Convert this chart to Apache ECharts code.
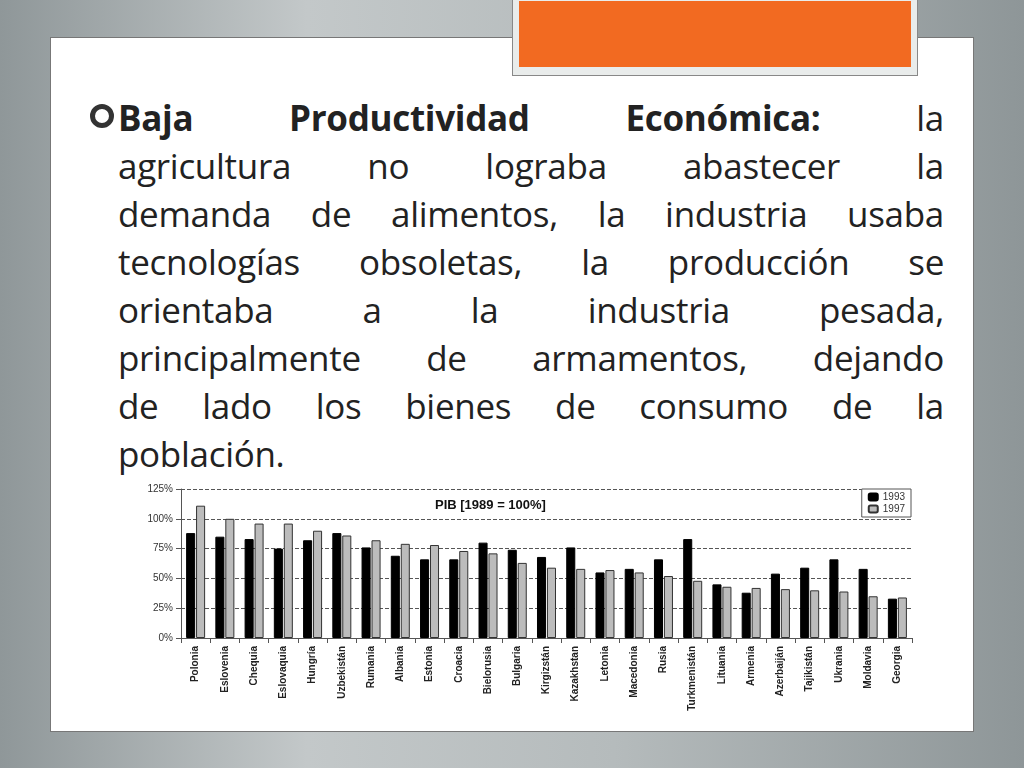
<!DOCTYPE html>
<html>
<head>
<meta charset="utf-8">
<script src="https://cdn.jsdelivr.net/npm/echarts@6/dist/echarts.min.js"></script>
<style>
  body { margin:0; width:1024px; height:768px; overflow:hidden; position:relative;
         background: linear-gradient(90deg,#8f9799 0%,#c3c8c9 30%,#b5bbbc 60%,#8e9698 100%); }
  #panel { position:absolute; left:50px; top:37px; width:922px; height:693px; background:#fff; border:1px solid #777; }
  #orange { position:absolute; left:512px; top:-4px; width:404px; height:78px; background:#e9eceb; border:1px solid #888; }
  #orange div { position:absolute; left:6px; top:4px; right:6px; bottom:8px; background:#f26a21; }
  #text { position:absolute; left:118px; top:94px; width:826px; font-family:"Open Sans",sans-serif; font-size:35px; line-height:48px; letter-spacing:-0.3px; color:#222; }
  #text .l { display:block; text-align:justify; text-align-last:justify; white-space:nowrap; }
  #text .last { text-align-last:left; }
  #bullet { position:absolute; left:90px; top:104px; width:14px; height:14px; border:5px solid #333; border-radius:50%; }
  #chart { position:absolute; left:140px; top:478px; width:775px; height:245px; background:#fff; }
</style>
</head>
<body>
<div id="panel"></div>
<div id="orange"><div></div></div>
<div id="bullet"></div>
<div id="text">
<span class="l"><b>Baja Productividad Económica:</b> la</span>
<span class="l">agricultura no lograba abastecer la</span>
<span class="l">demanda de alimentos, la industria usaba</span>
<span class="l">tecnologías obsoletas, la producción se</span>
<span class="l">orientaba a la industria pesada,</span>
<span class="l">principalmente de armamentos, dejando</span>
<span class="l">de lado los bienes de consumo de la</span>
<span class="l last">población.</span>
</div>
<div id="chart"></div>
<script>
var countries = ['Polonia','Eslovenia','Chequia','Eslovaquia','Hungría','Uzbekistán','Rumania','Albania','Estonia','Croacia','Bielorusia','Bulgaria','Kirgizstán','Kazakhstan','Letonia','Macedonia','Rusia','Turkmenistán','Lituania','Armenia','Azerbaiján','Tajikistán','Ukrania','Moldavia','Georgia'];
var v1993 = [88,85,83,75,82,88,76,69,66,66,80,74,68,76,55,58,66,83,45,38,54,59,66,58,33];
var v1997 = [111,100,96,96,90,86,82,79,78,73,71,63,59,58,57,55,52,48,43,42,41,40,39,35,34];
var yTicks = [0,25,50,75,100,125];

var myChart = echarts.init(document.getElementById('chart'));
myChart.setOption({
  animation: false,
  title: { text: 'PIB [1989 = 100%]', left: 290, top: 16,
    textStyle: { fontFamily: 'Liberation Sans', fontSize: 13, fontWeight: 'bold', color: '#111' } },
  legend: { right: 4, top: 11, orient: 'vertical', itemWidth: 9, itemHeight: 7, itemGap: 2,
    backgroundColor: '#fff', borderColor: '#555', borderWidth: 1, padding: [3, 6],
    textStyle: { fontFamily: 'Liberation Sans', fontSize: 10, color: '#333' } },
  grid: { left: 41, top: 11, right: 3, bottom: 85 },
  xAxis: { type: 'category', data: countries,
    axisLine: { lineStyle: { color: '#555' } }, axisTick: { show: true, lineStyle: { color: '#555' } },
    axisLabel: { rotate: 90, interval: 0, fontFamily: 'Liberation Sans', fontSize: 10, fontWeight: 'bold', color: '#222' } },
  yAxis: { type: 'value', min: yTicks[0], max: yTicks[yTicks.length - 1], interval: 25,
    axisLine: { show: true, lineStyle: { color: '#555' } }, axisTick: { show: true },
    axisLabel: { formatter: '{value}%', fontFamily: 'Liberation Sans', fontSize: 10, color: '#333' },
    splitLine: { lineStyle: { type: 'dashed', color: '#555' } } },
  series: [
    { name: '1993', type: 'bar', data: v1993, barGap: '10%', barCategoryGap: '35%',
      itemStyle: { color: '#000', borderColor: '#000', borderWidth: 1 } },
    { name: '1997', type: 'bar', data: v1997,
      itemStyle: { color: '#bcbcbc', borderColor: '#333', borderWidth: 1 } }
  ]
});
</script>
</body>
</html>
